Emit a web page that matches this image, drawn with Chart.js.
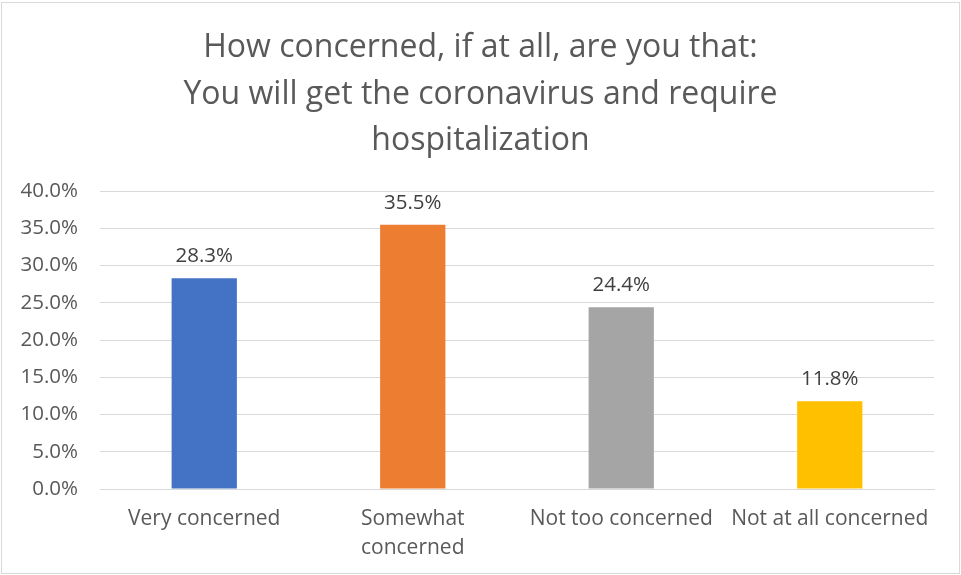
<!DOCTYPE html>
<html><head><meta charset="utf-8">
<script src="https://cdn.jsdelivr.net/npm/chart.js@4"></script>
<style>html,body{margin:0;padding:0;background:#fff;}#wrap{width:961px;height:575px;position:relative;}</style>
</head><body><div id="wrap"><canvas id="c" width="961" height="575"></canvas></div>
<script>
const categories = [["Very concerned"], ["Somewhat", "concerned"], ["Not too concerned"], ["Not at all concerned"]];
const values = [28.3, 35.5, 24.4, 11.8];
const colors = ["#4472C4", "#ED7D31", "#A5A5A5", "#FFC000"];
const titleLines = ["How concerned, if at all, are you that:", "You will get the coronavirus and require", "hospitalization"];
const yMin = 0, yMax = 40, yStep = 5;

const FONT = "'Open Sans', 'Liberation Sans', sans-serif";

const borderPlugin = {
  id: 'border',
  afterDraw(chart) {
    const ctx = chart.ctx;
    ctx.save();
    ctx.strokeStyle = '#D9D9D9';
    ctx.lineWidth = 1;
    ctx.strokeRect(1.5, 2.5, chart.width - 3, chart.height - 4);
    ctx.restore();
  }
};
const labelPlugin = {
  id: 'dlabels',
  afterDatasetsDraw(chart) {
    const ctx = chart.ctx;
    const meta = chart.getDatasetMeta(0);
    ctx.save();
    ctx.fillStyle = '#404040';
    ctx.font = "20.5px " + FONT;
    ctx.textAlign = 'center';
    ctx.textBaseline = 'middle';
    meta.data.forEach((bar, i) => {
      ctx.fillText(values[i].toFixed(1) + '%', bar.x, bar.y - 22);
    });
    ctx.restore();
  }
};

new Chart(document.getElementById('c'), {
  type: 'bar',
  data: {
    labels: categories,
    datasets: [{ data: values, backgroundColor: colors, barPercentage: 0.313, categoryPercentage: 1.0 }]
  },
  options: {
    responsive: false,
    animation: false,
    layout: { padding: { left: 0, right: 0, top: 0, bottom: 0 } },
    plugins: {
      legend: { display: false },
      tooltip: { enabled: false },
      title: {
        display: true,
        text: titleLines,
        color: '#595959',
        font: { family: FONT, size: 32, weight: 'normal', lineHeight: 1.45 },
        padding: { top: 25, bottom: 27 }
      }
    },
    scales: {
      x: {
        grid: { display: false, drawTicks: false },
        border: { display: true, color: '#D9D9D9' },
        afterFit(scale) { scale.height = 86; },
        ticks: { color: '#595959', font: { family: FONT, size: 21, lineHeight: 1.35 }, padding: 16, maxRotation: 0, autoSkip: false }
      },
      y: {
        min: yMin, max: yMax,
        grid: { color: '#D9D9D9', drawTicks: false },
        border: { display: false },
        afterFit(scale) { scale.width = 100; },
        ticks: { stepSize: yStep, color: '#595959', font: { family: FONT, size: 20.5 }, padding: 22,
          callback: v => v.toFixed(1) + '%' }
      },
      y2: {
        position: 'right',
        display: true,
        grid: { display: false, drawTicks: false },
        border: { display: false },
        ticks: { display: false },
        afterFit(scale) { scale.width = 27; }
      }
    }
  },
  plugins: [borderPlugin, labelPlugin]
});
</script></body></html>
